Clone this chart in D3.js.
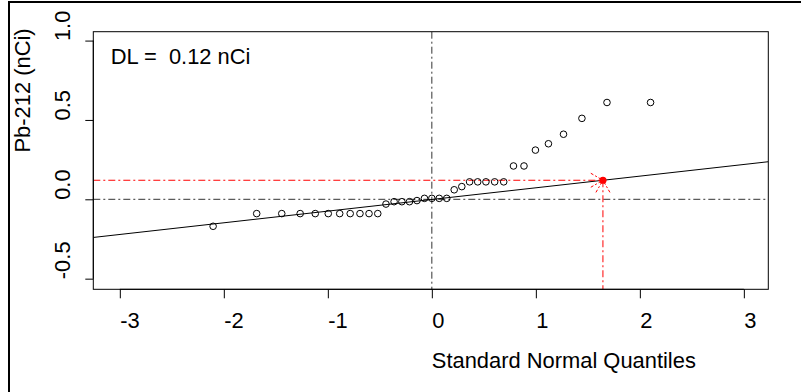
<!DOCTYPE html>
<html>
<head>
<meta charset="utf-8">
<script src="https://cdn.jsdelivr.net/npm/d3@7"></script>
<style>
  html, body { margin: 0; padding: 0; background: #fff; }
  svg { display: block; }
  text { font-family: "Liberation Sans", Arial, sans-serif; fill: #000; white-space: pre; }
</style>
</head>
<body>
<svg id="chart" width="801" height="392"></svg>
<script>
// ---- data ----
// theoretical standard normal quantiles (Blom positions, n = 35)
const quantiles = [
  -2.103, -1.684, -1.443, -1.266, -1.121, -0.996, -0.886, -0.785, -0.691,
  -0.604, -0.520, -0.441, -0.363, -0.288, -0.215, -0.143, -0.071, 0.000,
   0.071,  0.143,  0.215,  0.288,  0.363,  0.441,  0.520,  0.604,  0.691,
   0.785,  0.886,  0.996,  1.121,  1.266,  1.443,  1.684,  2.103
];
// ordered Pb-212 values (nCi)
const values = [
  -0.17, -0.09, -0.09, -0.09, -0.09, -0.09, -0.09, -0.09, -0.09,
  -0.09, -0.09, -0.03, -0.015, -0.015, -0.015, -0.008, 0.006, 0.006,
   0.006,  0.006,  0.06,  0.08,  0.11,  0.11,  0.11,  0.11,  0.11,
   0.21,  0.21,  0.31,  0.35,  0.41,  0.51,  0.61,  0.61
];
const xTicks = [-3, -2, -1, 0, 1, 2, 3];
const xTickLabels = ["-3", "-2", "-1", "0", "1", "2", "3"];
const yTicks = [-0.5, 0.0, 0.5, 1.0];
const yTickLabels = ["-0.5", "0.0", "0.5", "1.0"];
const fitIntercept = -0.001;
const fitSlope = 0.0735;
const dlValue = 0.12;
const dlQuantile = 1.645;
const dlLabel = "DL =  0.12 nCi";
const xTitle = "Standard Normal Quantiles";
const yTitle = "Pb-212 (nCi)";

// ---- layout ----
const L = 93.3, R = 768.3, T = 31.7, B = 289.3;
const x = d3.scaleLinear().domain([-3.255, 3.235]).range([L, R]);
const y = d3.scaleLinear().domain([-0.567, 1.056]).range([B, T]);

const svg = d3.select("#chart");
const dash = "7,3,2,3";
const FS = "21.9px";

// outer figure frame (top + left)
svg.append("line").attr("x1", 9).attr("x2", 801).attr("y1", 2).attr("y2", 2)
  .attr("stroke", "#000").attr("stroke-width", 2);
svg.append("line").attr("x1", 9).attr("x2", 9).attr("y1", 1).attr("y2", 392)
  .attr("stroke", "#000").attr("stroke-width", 2);

svg.append("clipPath").attr("id", "clip")
  .append("rect").attr("x", L).attr("y", T).attr("width", R - L).attr("height", B - T);
const plot = svg.append("g").attr("clip-path", "url(#clip)");

// reference lines at 0
plot.append("line").attr("x1", L).attr("x2", R).attr("y1", y(0)).attr("y2", y(0))
  .attr("stroke", "#333").attr("stroke-dasharray", dash);
plot.append("line").attr("x1", x(0)).attr("x2", x(0)).attr("y1", T).attr("y2", B)
  .attr("stroke", "#333").attr("stroke-dasharray", dash);

// fitted line
const xd = x.domain();
plot.append("line")
  .attr("x1", x(xd[0])).attr("y1", y(fitIntercept + fitSlope * xd[0]))
  .attr("x2", x(xd[1])).attr("y2", y(fitIntercept + fitSlope * xd[1]))
  .attr("stroke", "#000").attr("stroke-width", 1);

// DL lines
plot.append("line").attr("x1", L).attr("x2", x(dlQuantile))
  .attr("y1", y(dlValue)).attr("y2", y(dlValue))
  .attr("stroke", "red").attr("stroke-dasharray", dash);
plot.append("line").attr("x1", x(dlQuantile)).attr("x2", x(dlQuantile))
  .attr("y1", y(dlValue)).attr("y2", B)
  .attr("stroke", "red").attr("stroke-dasharray", dash);

// arrowheads at DL point
const px = x(dlQuantile), py = y(dlValue), ah = 14;
[[150, 210], [60, 120]].forEach(pair => {
  pair.forEach(a => {
    const r = a * Math.PI / 180;
    plot.append("line").attr("x1", px).attr("y1", py)
      .attr("x2", px + ah * Math.cos(r)).attr("y2", py + ah * Math.sin(r))
      .attr("stroke", "red").attr("stroke-dasharray", "5,2,2,2");
  });
});

// points
const pts = quantiles.map((q, i) => ({q, v: values[i]}));
plot.selectAll("circle.pt").data(pts).enter().append("circle")
  .attr("class", "pt")
  .attr("cx", d => x(d.q)).attr("cy", d => y(d.v)).attr("r", 3.3)
  .attr("fill", "none").attr("stroke", "#000").attr("stroke-width", 1);

plot.append("circle").attr("cx", px).attr("cy", py).attr("r", 3.6).attr("fill", "red");

// box
svg.append("rect").attr("x", L).attr("y", T).attr("width", R - L).attr("height", B - T)
  .attr("fill", "none").attr("stroke", "#000").attr("stroke-width", 1);

// axes
const xAxis = d3.axisBottom(x).tickValues(xTicks).tickSize(9)
  .tickFormat((d, i) => xTickLabels[i]);
const gx = svg.append("g").attr("transform", `translate(0,${B})`).call(xAxis);
gx.select(".domain").attr("d", `M${x(xTicks[0])},0H${x(xTicks[xTicks.length-1])}`);
gx.selectAll(".tick text").attr("text-anchor", "start").attr("dy", null)
  .attr("y", 39).attr("x", 0)
  .style("font-size", FS).style("font-family", "'Liberation Sans', Arial, sans-serif");

const yAxis = d3.axisLeft(y).tickValues(yTicks).tickSize(8)
  .tickFormat((d, i) => yTickLabels[i]);
const gy = svg.append("g").attr("transform", `translate(${L},0)`).call(yAxis);
gy.select(".domain").attr("d", `M0,${y(yTicks[0])}V${y(yTicks[yTicks.length-1])}`);
gy.selectAll(".tick text").attr("text-anchor", "start").attr("dy", null)
  .attr("x", null).attr("y", null)
  .attr("transform", "translate(-23,0) rotate(-90)")
  .style("font-size", FS).style("font-family", "'Liberation Sans', Arial, sans-serif");
svg.selectAll(".tick line").attr("stroke", "#000");
svg.selectAll(".domain").attr("stroke", "#000");

// titles
svg.append("text").attr("x", (L + R) / 2 + 1).attr("y", 368)
  .attr("text-anchor", "start").style("font-size", FS).text(xTitle);
svg.append("text").attr("transform", `translate(30,${(T + B) / 2 - 8}) rotate(-90)`)
  .attr("text-anchor", "start").style("font-size", FS).text(yTitle);

// DL annotation
svg.append("text").attr("x", 110.7).attr("y", 64)
  .style("font-size", FS).text(dlLabel);
</script>
</body>
</html>
